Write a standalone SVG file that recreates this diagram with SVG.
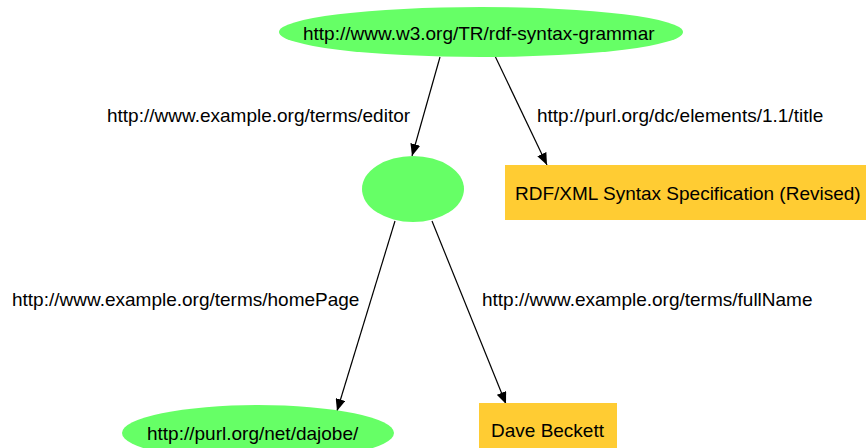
<svg xmlns="http://www.w3.org/2000/svg" width="866" height="448" viewBox="0 0 866 448">
<style>
text { font-family: "Liberation Sans", Arial, sans-serif; font-size: 19px; fill: #000; }
.res { fill: #66ff66; stroke: none; }
.lit { fill: #ffcc33; stroke: none; }
.edge { stroke: #000; stroke-width: 1.2; fill: none; marker-end: url(#arrow); }
</style>
<defs>
<marker id="arrow" viewBox="0 0 12 10" refX="12" refY="5" markerWidth="12" markerHeight="10" markerUnits="userSpaceOnUse" orient="auto">
<path d="M0,0 L12,5 L0,10 z" fill="#000"/>
</marker>
</defs>
<rect width="866" height="448" fill="#fff"/>
<g id="connectors">
<line class="edge" x1="440" y1="57" x2="412" y2="156"/>
<line class="edge" x1="495" y1="56" x2="547" y2="165"/>
<line class="edge" x1="395" y1="221" x2="337" y2="411"/>
<line class="edge" x1="432" y1="221" x2="506" y2="404"/>
<text x="107" y="122">http://www.example.org/terms/editor</text>
<text x="537" y="122">http://purl.org/dc/elements/1.1/title</text>
<text x="12" y="306">http://www.example.org/terms/homePage</text>
<text x="482" y="306">http://www.example.org/terms/fullName</text>
</g>
<g id="node-grammar">
<ellipse class="res" cx="481" cy="32" rx="202" ry="25"/>
<text x="303" y="40">http://www.w3.org/TR/rdf-syntax-grammar</text>
</g>
<g id="node-blank">
<ellipse class="res" cx="413" cy="189" rx="51" ry="33"/>
</g>
<g id="node-title">
<rect class="lit" x="505" y="165" width="361" height="55"/>
<text x="515" y="200">RDF/XML Syntax Specification (Revised)</text>
</g>
<g id="node-homepage">
<ellipse class="res" cx="258" cy="433" rx="136" ry="28"/>
<text x="147" y="440">http://purl.org/net/dajobe/</text>
</g>
<g id="node-fullname">
<rect class="lit" x="479" y="403" width="138" height="45"/>
<text x="491" y="437">Dave Beckett</text>
</g>
</svg>
